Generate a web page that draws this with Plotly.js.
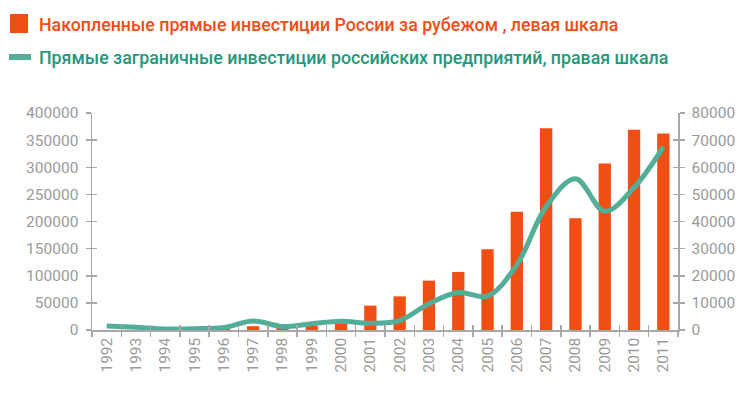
<!DOCTYPE html>
<html>
<head>
<meta charset="utf-8">
<script src="https://cdn.plot.ly/plotly-3.0.1.min.js"></script>
<style>html,body{margin:0;padding:0;background:#fff;}#chart{width:750px;height:396px;}</style>
</head>
<body>
<div id="chart"></div>
<script>
// Data
var years = ["1992","1993","1994","1995","1996","1997","1998","1999","2000","2001","2002","2003","2004","2005","2006","2007","2008","2009","2010","2011"];
var stockAbroad = [0, 0, 0, 0, 2000, 7000, 5000, 8000, 18000, 45000, 62000, 91000, 107000, 149000, 218000, 372000, 206000, 307000, 369000, 362000];
var fdiOutflow = [1500, 1000, 400, 500, 900, 3300, 1300, 2300, 3200, 2500, 3500, 9700, 13800, 12500, 24000, 45500, 55800, 43800, 52500, 67500];
var leftTicks = [0, 50000, 100000, 150000, 200000, 250000, 300000, 350000, 400000];
var rightTicks = [0, 10000, 20000, 30000, 40000, 50000, 60000, 70000, 80000];
var name1 = "Накопленные прямые инвестиции России за рубежом , левая шкала";
var name2 = "Прямые заграничные инвестиции российских предприятий, правая шкала";

var W = 750, H = 396, L = 92, R = 72, T = 113, B = 66;
function px(x){ return (x - L) / (W - L - R); }
function py(y){ return (H - B - y) / (H - T - B); }

var orange = "#F04E12", teal = "#52AE98", tealText = "#23977C", gray = "#9A9A9A", axisGray = "#A8A8A8";
var tickFont = {family: "Roboto, 'DejaVu Sans', sans-serif", size: 15.5, color: gray};

var traces = [
  {type: "bar", x: years, y: stockAbroad, marker: {color: orange}, width: 0.42, yaxis: "y", xaxis: "x", showlegend: false, hoverinfo: "skip"},
  {type: "scatter", mode: "lines", x: years, y: fdiOutflow, yaxis: "y2", xaxis: "x", line: {color: teal, width: 5, shape: "spline", smoothing: 1}, showlegend: false, hoverinfo: "skip"}
];

var layout = {
  width: W, height: H,
  margin: {l: L, r: R, t: T, b: B},
  paper_bgcolor: "#fff", plot_bgcolor: "#fff",
  showlegend: false,
  xaxis: {type: "category", categoryarray: years, range: [-0.5, years.length - 0.5],
    showline: true, linecolor: axisGray, linewidth: 1.5, ticks: "outside", ticklen: 5, tickwidth: 1.5, tickcolor: axisGray,
    tickson: "boundaries", tickangle: -90, tickfont: tickFont, showgrid: false, zeroline: false, fixedrange: true},
  yaxis: {range: [0, 400000], tickvals: leftTicks, ticktext: leftTicks.map(String), showline: true, linecolor: axisGray, linewidth: 1.5,
    ticks: "outside", ticklen: 5, tickwidth: 1.5, tickcolor: axisGray, tickfont: tickFont, showgrid: false, zeroline: false, ticklabelstandoff: 4},
  yaxis2: {range: [0, 80000], overlaying: "y", side: "right", tickvals: rightTicks, ticktext: rightTicks.map(String), showline: true, linecolor: axisGray, linewidth: 1.5,
    ticks: "outside", ticklen: 5, tickwidth: 1.5, tickcolor: axisGray, tickfont: tickFont, showgrid: false, zeroline: false, ticklabelstandoff: 4},
  yaxis3: {range: [0, 400000], overlaying: "y", side: "left", tickvals: leftTicks, showticklabels: false, showline: false,
    ticks: "inside", ticklen: 5, tickwidth: 1.5, tickcolor: axisGray, showgrid: false, zeroline: false},
  yaxis4: {range: [0, 80000], overlaying: "y", side: "right", tickvals: rightTicks, showticklabels: false, showline: false,
    ticks: "inside", ticklen: 5, tickwidth: 1.5, tickcolor: axisGray, showgrid: false, zeroline: false},
  xaxis2: {type: "category", categoryarray: years, range: [-0.5, years.length - 0.5], overlaying: "x", side: "bottom", anchor: "y",
    showticklabels: false, showline: false, ticks: "inside", ticklen: 5, tickwidth: 1.5, tickcolor: axisGray, tickson: "boundaries", showgrid: false, zeroline: false},
  shapes: [
    {type: "rect", xref: "paper", yref: "paper", x0: px(10), x1: px(28), y0: py(14), y1: py(33), fillcolor: orange, line: {width: 0}},
    {type: "line", xref: "paper", yref: "paper", x0: px(9), x1: px(31), y0: py(57), y1: py(57), line: {color: teal, width: 6}}
  ],
  annotations: [
    {xref: "paper", yref: "paper", x: px(37), y: py(24), xanchor: "left", yanchor: "middle", showarrow: false, text: name1,
      font: {family: "Roboto, sans-serif", size: 17.8, weight: 500, color: orange}},
    {xref: "paper", yref: "paper", x: px(37), y: py(57), xanchor: "left", yanchor: "middle", showarrow: false, text: name2,
      font: {family: "Roboto, sans-serif", size: 17.8, weight: 500, color: tealText}}
  ]
};

// invisible traces registering the overlay axes that draw the inner half of the crossing ticks
traces.push({type: "scatter", x: years, y: stockAbroad, xaxis: "x2", yaxis: "y3", mode: "none", showlegend: false, hoverinfo: "skip"});
traces.push({type: "scatter", x: years, y: fdiOutflow, xaxis: "x", yaxis: "y4", mode: "none", showlegend: false, hoverinfo: "skip"});

Plotly.newPlot("chart", traces, layout, {staticPlot: true, displayModeBar: false});
</script>
</body>
</html>
